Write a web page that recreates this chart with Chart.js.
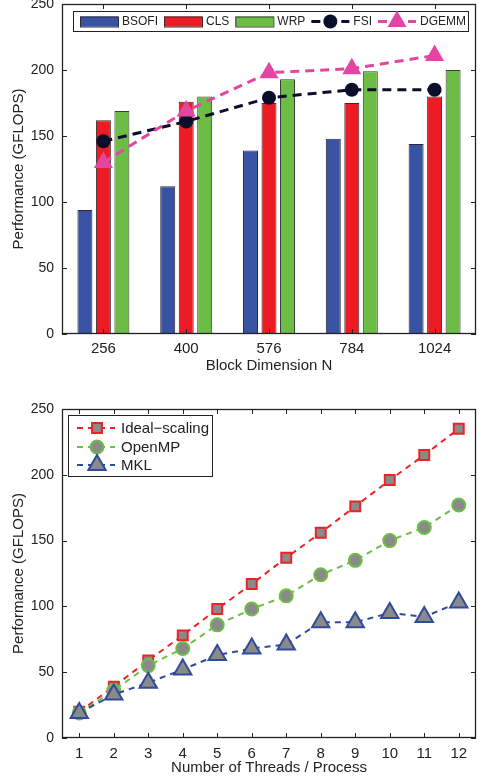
<!DOCTYPE html>
<html>
<head>
  <title>Performance charts</title>
  <script src="https://cdn.jsdelivr.net/npm/chart.js"></script>
  <style>
    body { margin: 0; background: #fff; width: 482px; height: 782px; position: relative; overflow: hidden; }
    canvas { position: absolute; left: 0; }
    #topChart { top: 0px; }
    #bottomChart { top: 400px; }
  </style>
</head>
<body>
  <canvas id="topChart" width="482" height="378"></canvas>
  <canvas id="bottomChart" width="482" height="380"></canvas>

  <script>
    // datos del grafico de arriba
    var blockLabels = ['256', '400', '576', '784', '1024'];
    var bsofi = [94, 112, 139, 148, 144];
    var cls = [162, 176, 175, 175, 180];
    var wrp = [169, 180, 193, 199, 200];
    var fsi = [146, 161, 179, 185, 185];
    var dgemm = [130, 169, 198, 201, 211];

    // datos del grafico de abajo
    var threadLabels = ['1', '2', '3', '4', '5', '6', '7', '8', '9', '10', '11', '12'];
    var ideal = [20, 39, 59, 78, 98, 117, 137, 156, 176, 196, 215, 235];
    var openmp = [19, 36, 55, 68, 86, 98, 108, 124, 135, 150, 160, 177];
    var mkl = [19, 33, 42, 52, 63, 68, 71, 88, 88, 95, 92, 103];

    var fam = "'Liberation Sans', Arial, sans-serif";
    Chart.defaults.font.family = fam;
    Chart.defaults.font.size = 15;
    Chart.defaults.color = '#222';

    var ink = '#222';

    // marco y marcas de ticks hacia adentro (estilo matlab)
    var framePlugin = {
      id: 'frame',
      afterDatasetsDraw: function(chart) {
        var ctx = chart.ctx, a = chart.chartArea, sx = chart.scales.x, sy = chart.scales.y;
        var L = 5;
        ctx.save();
        ctx.strokeStyle = ink;
        ctx.lineWidth = 1;
        ctx.beginPath();
        sy.ticks.forEach(function(t) {
          var y = Math.round(sy.getPixelForValue(t.value)) + 0.5;
          ctx.moveTo(a.left, y); ctx.lineTo(a.left + L, y);
          ctx.moveTo(a.right, y); ctx.lineTo(a.right - L, y);
        });
        sx.ticks.forEach(function(t, i) {
          var x = Math.round(sx.getPixelForTick(i)) + 0.5;
          ctx.moveTo(x, a.top); ctx.lineTo(x, a.top + L);
          ctx.moveTo(x, a.bottom); ctx.lineTo(x, a.bottom - L);
        });
        ctx.stroke();
        ctx.lineWidth = 1.3;
        ctx.strokeRect(a.left + 0.5, a.top + 0.5, a.right - a.left - 1, a.bottom - a.top - 1);
        ctx.restore();
      }
    };

    function drawMarker(ctx, style, x, y, r, fill, stroke, lw) {
      ctx.save();
      ctx.fillStyle = fill;
      ctx.strokeStyle = stroke;
      ctx.lineWidth = lw;
      ctx.beginPath();
      if (style === 'circle') {
        ctx.arc(x, y, r, 0, Math.PI * 2);
      } else if (style === 'rect') {
        var s = Math.SQRT1_2 * r;
        ctx.rect(x - s, y - s, 2 * s, 2 * s);
      } else if (style === 'triangle') {
        ctx.moveTo(x, y - r);
        ctx.lineTo(x + r * 0.866, y + r / 2);
        ctx.lineTo(x - r * 0.866, y + r / 2);
        ctx.closePath();
      }
      ctx.fill();
      if (lw > 0) ctx.stroke();
      ctx.restore();
    }

    function drawDashLine(ctx, x1, x2, y, color, lw, dash) {
      ctx.save();
      ctx.strokeStyle = color;
      ctx.lineWidth = lw;
      ctx.setLineDash(dash);
      ctx.beginPath();
      ctx.moveTo(x1, y); ctx.lineTo(x2, y);
      ctx.stroke();
      ctx.restore();
    }

    // leyenda horizontal dentro del area
    var topLegend = {
      id: 'topLegend',
      afterDraw: function(chart) {
        var ctx = chart.ctx, a = chart.chartArea;
        var ds = chart.data.datasets;
        var bx = a.left + 11, by = a.top + 7, bh = 20;
        ctx.save();
        ctx.font = '12px ' + fam;
        var x = bx + 7, items = [];
        ds.forEach(function(d) {
          items.push({ d: d, x: x });
          x += 38 + 4 + ctx.measureText(d.label).width + 6;
        });
        var bw = x - 6 + 2 - bx;
        ctx.fillStyle = '#fff';
        ctx.fillRect(bx, by, bw, bh);
        ctx.strokeStyle = ink;
        ctx.lineWidth = 1;
        ctx.strokeRect(bx + 0.5, by + 0.5, bw, bh);
        var cy = by + bh / 2 + 0.5;
        items.forEach(function(it) {
          var d = it.d;
          if (d.type === 'line') {
            drawDashLine(ctx, it.x, it.x + 38, cy, d.borderColor, d.borderWidth, d.borderDash);
            drawMarker(ctx, d.pointStyle, it.x + 19, cy, d.pointRadius, d.pointBackgroundColor, d.pointBorderColor, 0);
          } else {
            ctx.fillStyle = d.backgroundColor;
            ctx.fillRect(it.x, cy - 5, 38, 10);
            ctx.strokeStyle = d.borderColor;
            ctx.lineWidth = 1;
            ctx.strokeRect(it.x + 0.5, cy - 5 + 0.5, 38, 10);
          }
          ctx.fillStyle = ink;
          ctx.textBaseline = 'middle';
          ctx.fillText(d.label, it.x + 42, cy);
        });
        ctx.restore();
      }
    };

    var bottomLegend = {
      id: 'bottomLegend',
      afterDraw: function(chart) {
        var ctx = chart.ctx, a = chart.chartArea;
        var ds = chart.data.datasets;
        var bx = a.left + 6, by = a.top + 6;
        ctx.save();
        ctx.font = '15px ' + fam;
        var tw = 0;
        ds.forEach(function(d) { tw = Math.max(tw, ctx.measureText(d.label).width); });
        var bw = 53 + tw + 3, bh = 61;
        ctx.fillStyle = '#fff';
        ctx.fillRect(bx, by, bw, bh);
        ctx.strokeStyle = ink;
        ctx.lineWidth = 1;
        ctx.strokeRect(bx + 0.5, by + 0.5, bw, bh);
        var rows = [13, 32, 50];
        ds.forEach(function(d, i) {
          var cy = by + rows[i];
          drawDashLine(ctx, bx + 9, bx + 47, cy, d.borderColor, d.borderWidth, d.borderDash);
          drawMarker(ctx, d.pointStyle, bx + 29, cy, d.pointRadius, d.pointBackgroundColor, d.pointBorderColor, d.pointBorderWidth);
          ctx.fillStyle = ink;
          ctx.textBaseline = 'middle';
          ctx.fillText(d.label, bx + 53, cy + 1);
        });
        ctx.restore();
      }
    };

    function yAxis() {
      return {
        min: 0, max: 250,
        ticks: { stepSize: 50, padding: 8, color: ink, font: { size: 14 } },
        grid: { display: false, drawTicks: false },
        border: { display: false },
        title: { display: true, text: 'Performance (GFLOPS)', color: ink, padding: { top: 10, bottom: 0 } },
        afterFit: function(s) { s.width = 62; s.paddingTop = 0; s.paddingBottom = 0; }
      };
    }

    function xAxis(title, h, tpad, pad) {
      return {
        ticks: { padding: tpad, color: ink, autoSkip: false, maxRotation: 0 },
        grid: { display: false, drawTicks: false },
        border: { display: false },
        title: { display: true, text: title, color: ink, padding: { top: 0, bottom: pad } },
        afterFit: function(s) { s.height = h; s.paddingLeft = 0; s.paddingRight = 0; }
      };
    }

    var topChart = new Chart(document.getElementById('topChart').getContext('2d'), {
      type: 'bar',
      data: {
        labels: blockLabels,
        datasets: [
          { label: 'BSOFI', data: bsofi, backgroundColor: '#3953a4', borderColor: '#2a2a3a', borderWidth: 1, categoryPercentage: 0.67, barPercentage: 0.81 },
          { label: 'CLS', data: cls, backgroundColor: '#ed1c24', borderColor: '#3a2a2a', borderWidth: 1, categoryPercentage: 0.67, barPercentage: 0.81 },
          { label: 'WRP', data: wrp, backgroundColor: '#6cbd45', borderColor: '#3a3a3a', borderWidth: 1, categoryPercentage: 0.67, barPercentage: 0.81 },
          { type: 'line', label: 'FSI', data: fsi, order: -1, borderColor: '#0b0e2b', borderWidth: 3, borderDash: [9, 6],
            pointStyle: 'circle', pointRadius: 7, pointBackgroundColor: '#0b0e2b', pointBorderColor: '#0b0e2b', pointBorderWidth: 0, fill: false },
          { type: 'line', label: 'DGEMM', data: dgemm, order: -2, borderColor: '#e346a1', borderWidth: 3, borderDash: [9, 6],
            pointStyle: 'triangle', pointRadius: 11, pointBackgroundColor: '#e346a1', pointBorderColor: '#e346a1', pointBorderWidth: 0, fill: false }
        ]
      },
      options: {
        responsive: false,
        animation: false,
        devicePixelRatio: 1,
        layout: { autoPadding: false, padding: { left: 0, right: 6, top: 4, bottom: 0 } },
        plugins: { legend: { display: false }, tooltip: { enabled: false } },
        scales: {
          x: xAxis('Block Dimension N', 44, 6, 3),
          y: yAxis()
        }
      },
      plugins: [framePlugin, topLegend]
    });

    var bottomChart = new Chart(document.getElementById('bottomChart').getContext('2d'), {
      type: 'line',
      data: {
        labels: threadLabels,
        datasets: [
          { label: 'Ideal\u2212scaling', data: ideal, order: 3, borderColor: '#ec2227', borderWidth: 2, borderDash: [6, 5],
            pointStyle: 'rect', pointRadius: 7, pointBackgroundColor: '#8a8a8a', pointBorderColor: '#ec2227', pointBorderWidth: 2 },
          { label: 'OpenMP', data: openmp, order: 2, borderColor: '#6dbe45', borderWidth: 2, borderDash: [6, 5],
            pointStyle: 'circle', pointRadius: 6.5, pointBackgroundColor: '#8a8a8a', pointBorderColor: '#6dbe45', pointBorderWidth: 2 },
          { label: 'MKL', data: mkl, order: 1, borderColor: '#2f4b9b', borderWidth: 2, borderDash: [6, 5],
            pointStyle: 'triangle', pointRadius: 10, pointBackgroundColor: '#8a8a8a', pointBorderColor: '#2f4b9b', pointBorderWidth: 2 }
        ]
      },
      options: {
        responsive: false,
        animation: false,
        devicePixelRatio: 1,
        layout: { autoPadding: false, padding: { left: 0, right: 6, top: 9, bottom: 0 } },
        plugins: { legend: { display: false }, tooltip: { enabled: false } },
        scales: {
          x: Object.assign(xAxis('Number of Threads / Process', 42, 7, 3), { offset: true }),
          y: yAxis()
        }
      },
      plugins: [framePlugin, bottomLegend]
    });
  </script>
</body>
</html>
